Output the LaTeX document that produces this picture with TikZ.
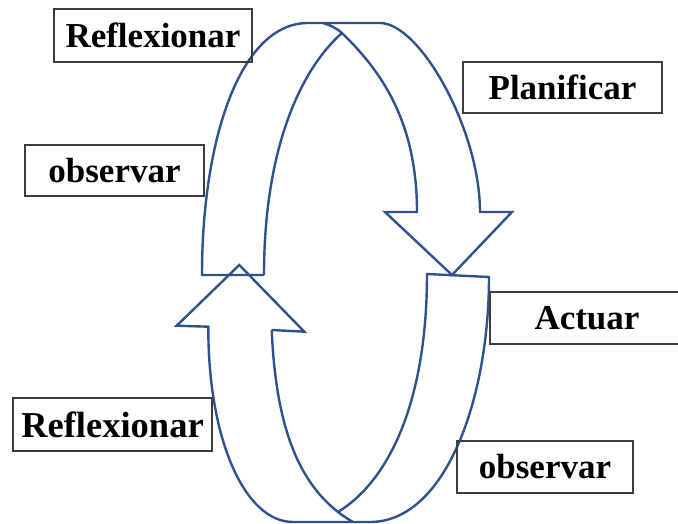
\documentclass[tikz,border=0pt]{standalone}
\usepackage{fontspec}
\setmainfont{Liberation Serif}
\definecolor{ringblue}{RGB}{47,82,143}
\definecolor{boxline}{RGB}{60,60,60}
\begin{document}
\begin{tikzpicture}[x=1pt,y=-1pt,
  band/.style={draw=ringblue,line width=2.4pt,line join=miter},
  labelbox/.style={draw=boxline,line width=1.2pt,inner sep=0pt,
    font=\fontsize{35}{40}\selectfont\bfseries,text=black},
]
\useasboundingbox (0,0) rectangle (678,524);
% top arrow (down-pointing head)
\draw[band] (264,275) -- (202,275)
  .. controls (202,140) and (240,23) .. (308,23)
  -- (380,23)
  .. controls (420,23) and (480,130) .. (480,212)
  -- (512,212) -- (452,275) -- (385,212) -- (417,212)
  .. controls (417,120) and (380,70) .. (342,33)
  .. controls (336,28) and (330,25) .. (323,23);
\draw[band] (264,275) .. controls (264,150) and (300,70) .. (342,33);
% bottom arrow (up-pointing head)
\draw[band] (271.7,330) -- (304.3,331.7) -- (239.3,265) -- (176.7,325.7) -- (208.3,326.7)
  .. controls (208,440) and (245,522) .. (293,522)
  -- (370,522)
  .. controls (445,522) and (489,400) .. (489,277)
  -- (427,274)
  .. controls (427,400) and (390,480) .. (338,512);
\draw[band] (271.7,330) .. controls (276,430) and (300,482) .. (338,512)
  .. controls (343,516) and (348,519) .. (353,522);
% label boxes
\node[labelbox,minimum width=198pt,minimum height=53pt] (r1) at (153,35.5) {Reflexionar};
\node[labelbox,minimum width=199pt,minimum height=51pt] (p1) at (562.5,87.5) {Planificar};
\node[labelbox,minimum width=179pt,minimum height=51pt] (o1) at (114.5,170.5) {observar};
\node[labelbox,minimum width=200pt,minimum height=52pt] (a1) at (590,318) {\hspace*{-6pt}Actuar};
\node[labelbox,minimum width=199pt,minimum height=53pt,font=\fontsize{36.5}{40}\selectfont\bfseries] (r2) at (112.5,424.5) {Reflexionar};
\node[labelbox,minimum width=176pt,minimum height=52pt] (o2) at (545,467) {observar};
\end{tikzpicture}
\end{document}
